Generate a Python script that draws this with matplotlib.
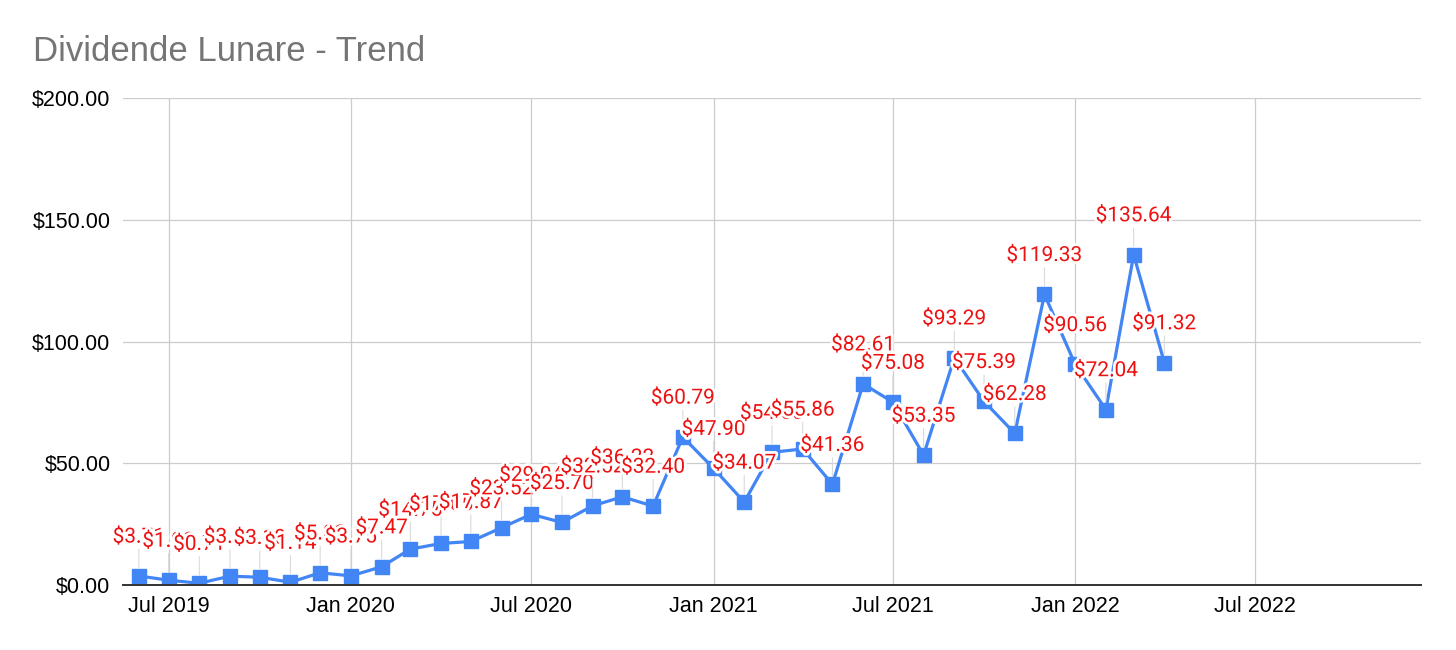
import matplotlib
matplotlib.use("Agg")
import matplotlib.pyplot as plt
import matplotlib.dates as mdates
import matplotlib.patheffects as pe
import pandas as pd

# ---- data ----
months = ["2019-06", "2019-07", "2019-08", "2019-09", "2019-10", "2019-11", "2019-12",
          "2020-01", "2020-02", "2020-03", "2020-04", "2020-05", "2020-06", "2020-07",
          "2020-08", "2020-09", "2020-10", "2020-11", "2020-12",
          "2021-01", "2021-02", "2021-03", "2021-04", "2021-05", "2021-06", "2021-07",
          "2021-08", "2021-09", "2021-10", "2021-11", "2021-12",
          "2022-01", "2022-02", "2022-03", "2022-04"]
dividends = [3.71, 1.98, 0.71, 3.64, 3.18, 1.14, 5.02,
             3.75, 7.47, 14.75, 17.05, 17.87, 23.52, 29.04,
             25.70, 32.52, 36.22, 32.40, 60.79,
             47.90, 34.07, 54.50, 55.86, 41.36, 82.61, 75.08,
             53.35, 93.29, 75.39, 62.28, 119.33,
             90.56, 72.04, 135.64, 91.32]
y_ticks = [0, 50, 100, 150, 200]
title = "Dividende Lunare - Trend"

dates = pd.to_datetime(months)

fig = plt.figure(figsize=(14.56, 6.5), dpi=100)
ax = fig.add_axes([123/1456, 1 - 585/650, (1421-123)/1456, (585-98)/650])

blue = "#4285F4"
ax.plot(dates, dividends, color=blue, lw=2.3, zorder=3, solid_joinstyle="round",
        marker="s", markersize=10.5)

halo = [pe.withStroke(linewidth=4, foreground="white")]
for d, v in zip(dates, dividends):
    ax.annotate(f"${v:,.2f}", xy=(d, v), xytext=(0, 28), textcoords="offset points",
                ha="center", va="center", fontsize=15, family="Roboto", color="#ee1111",
                zorder=4, path_effects=halo,
                arrowprops=dict(arrowstyle="-", color="#dadada", lw=0.8,
                                shrinkA=0, shrinkB=6))

ax.set_ylim(0, 200)
ax.set_yticks(y_ticks)
ax.set_yticklabels([f"${t:,.2f}" for t in y_ticks])
ax.set_xlim(pd.Timestamp("2019-05-16"), pd.Timestamp("2022-12-16"))
ax.xaxis.set_major_locator(mdates.MonthLocator(bymonth=[1, 7]))
ax.xaxis.set_major_formatter(mdates.DateFormatter("%b %Y"))

ax.grid(True, color="#cccccc", lw=0.9, zorder=0)
ax.set_axisbelow(True)
for s in ["left", "right", "top"]:
    ax.spines[s].set_visible(False)
ax.spines["bottom"].set_color("#333333")
ax.spines["bottom"].set_linewidth(1.4)
ax.spines["bottom"].set_zorder(6)
ax.tick_params(axis="both", length=0, labelsize=15.5, colors="black")
ax.tick_params(axis="y", pad=9)
ax.tick_params(axis="x", pad=8)
for lab in ax.get_xticklabels() + ax.get_yticklabels():
    lab.set_family("Liberation Sans")

fig.text(33/1456, 1 - 61/650, title, fontsize=25, color="#757575",
         family="Liberation Sans", ha="left", va="baseline")

fig.savefig("out.png", dpi=100, facecolor="white")
